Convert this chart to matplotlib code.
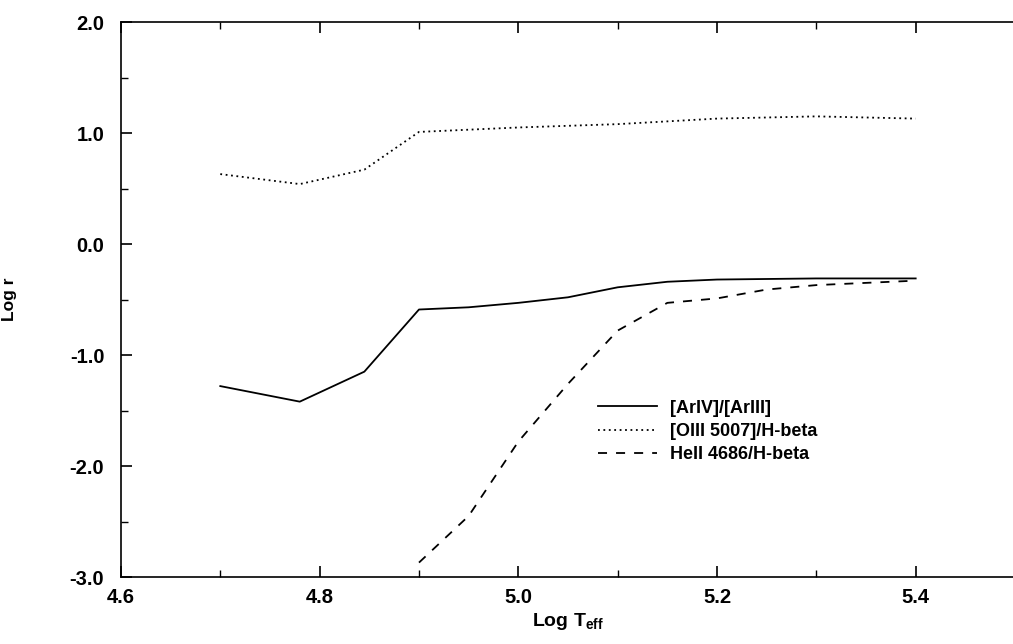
import matplotlib
matplotlib.use("Agg")
import matplotlib.pyplot as plt
from matplotlib.ticker import MultipleLocator, FormatStrFormatter

plt.rcParams['font.family'] = ['Liberation Sans', 'DejaVu Sans']
plt.rcParams['font.weight'] = 'bold'
plt.rcParams['axes.unicode_minus'] = False

# Log Teff grid and line ratios
t_ar = [4.70, 4.78, 4.845, 4.90, 4.95, 5.00, 5.05, 5.10, 5.15, 5.20, 5.30, 5.40]
ar_ratio = [-1.28, -1.42, -1.15, -0.59, -0.57, -0.53, -0.48, -0.39, -0.34, -0.32, -0.31, -0.31]

t_o3 = [4.70, 4.78, 4.845, 4.90, 4.95, 5.00, 5.10, 5.20, 5.30, 5.40]
o3_ratio = [0.63, 0.54, 0.67, 1.01, 1.03, 1.05, 1.08, 1.13, 1.15, 1.13]

t_he = [4.90, 4.95, 5.00, 5.05, 5.10, 5.15, 5.20, 5.25, 5.30, 5.40]
he_ratio = [-2.87, -2.45, -1.78, -1.26, -0.78, -0.53, -0.49, -0.41, -0.37, -0.33]

labels = ['[ArIV]/[ArIII]', '[OIII 5007]/H-beta', 'HeII 4686/H-beta']

fig = plt.figure(figsize=(10.13, 6.44), dpi=100)
ax = fig.add_axes([0.1194, 0.104, 0.8826, 0.8618])

ax.plot(t_ar, ar_ratio, color='black', lw=1.3, ls='-', label=labels[0])
ax.plot(t_o3, o3_ratio, color='black', lw=1.3, ls=(0, (1, 2)), label=labels[1])
ax.plot(t_he, he_ratio, color='black', lw=1.3, ls=(0, (5, 5)), label=labels[2])

ax.set_xlim(4.6, 5.5)
ax.set_ylim(-3.0, 2.0)
ax.xaxis.set_major_locator(MultipleLocator(0.2))
ax.xaxis.set_minor_locator(MultipleLocator(0.1))
ax.yaxis.set_major_locator(MultipleLocator(1.0))
ax.yaxis.set_minor_locator(MultipleLocator(0.5))
ax.xaxis.set_major_formatter(FormatStrFormatter('%.1f'))
ax.yaxis.set_major_formatter(FormatStrFormatter('%.1f'))
ax.tick_params(which='both', direction='in', top=True, right=False)
ax.tick_params(which='major', length=8, width=1.2, labelsize=14.5, pad=8)
ax.tick_params(which='minor', length=5, width=1.0)
ax.tick_params(axis='y', pad=12)
for s in ax.spines.values():
    s.set_linewidth(1.2)
ax.spines['right'].set_visible(False)

ax.set_xlabel('Log T$_{\\mathregular{eff}}$', fontsize=14, fontweight='bold', labelpad=3)
ax.set_ylabel('Log r', fontsize=12.5, fontweight='bold', labelpad=38)

leg = ax.legend(loc='upper left', bbox_to_anchor=(0.515, 0.349), frameon=False,
                fontsize=13, handlelength=3.3, handletextpad=0.7, labelspacing=0.35)
for t in leg.get_texts():
    t.set_fontweight('bold')

fig.savefig('out.png', dpi=100)
